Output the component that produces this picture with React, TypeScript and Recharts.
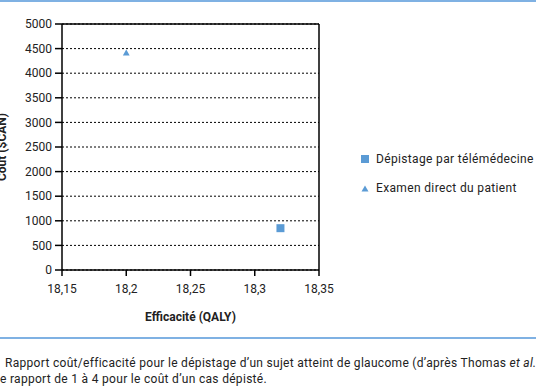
import React from 'react';
import { ScatterChart, Scatter, XAxis, YAxis, CartesianGrid, ReferenceLine, Legend, Symbols } from 'recharts';

const seriesNames = ['Dépistage par télémédecine', 'Examen direct du patient'];
const teleData = [{ x: 18.32, y: 850 }];
const directData = [{ x: 18.2, y: 4400 }];
const xTicks = [18.15, 18.2, 18.25, 18.3, 18.35];
const yTicks = [0, 500, 1000, 1500, 2000, 2500, 3000, 3500, 4000, 4500, 5000];
const captionLine1 = 'Rapport coût/efficacité pour le dépistage d’un sujet atteint de glaucome (d’après Thomas ';
const captionItalic = 'et al.';
const captionLine2 = 'e rapport de 1 à 4 pour le coût d’un cas dépisté.';

const BLUE = '#5b9bd5';
const FONT = 'Roboto, "DejaVu Sans", sans-serif';

const fmt = (v: number) => String(v).replace('.', ',');

const LegendContent = () => (
  <div style={{ fontFamily: FONT, fontSize: 12, color: '#222', letterSpacing: 0.35 }}>
    <div style={{ display: 'flex', alignItems: 'center', height: 16, whiteSpace: 'nowrap' }}>
      <svg width={16} height={10}><rect x={1} y={1} width={8} height={8} fill={BLUE} /></svg>
      <span>{seriesNames[0]}</span>
    </div>
    <div style={{ display: 'flex', alignItems: 'center', height: 16, marginTop: 13, whiteSpace: 'nowrap' }}>
      <svg width={16} height={10}><polygon points="5,2.5 8.5,8.5 1.5,8.5" fill={BLUE} /></svg>
      <span>{seriesNames[1]}</span>
    </div>
  </div>
);

const YLabel = (props: any) => {
  const vb = props.viewBox || { x: 0, y: 0, width: 0, height: 0 };
  const cx = 2;
  const cy = vb.y + vb.height / 2;
  return (
    <text x={cx} y={cy} transform={`rotate(-90 ${cx} ${cy})`} textAnchor="middle" dominantBaseline="central"
      style={{ fontFamily: FONT, fontSize: 12, fontWeight: 700, fill: '#222' }}>
      Coût ($CAN)
    </text>
  );
};

const squareShape = (p: any) => <Symbols cx={p.cx} cy={p.cy} type="square" size={64} fill={BLUE} />;
const triangleShape = (p: any) => <Symbols cx={p.cx} cy={p.cy} type="triangle" size={20} fill={BLUE} />;

export default function App() {
  return (
    <div style={{ position: 'absolute', left: 0, top: 0, width: 536, height: 386, background: '#fff', overflow: 'hidden', fontFamily: FONT }}>
      <div style={{ position: 'absolute', left: 0, top: 0, width: 536, height: 2, background: '#7fb1e3' }} />
      <div style={{ position: 'absolute', left: 0, top: 337, width: 536, height: 2, background: '#7fb1e3' }} />
      <ScatterChart width={536} height={386} margin={{ top: 24, right: 217, bottom: 86, left: 12 }}>
        <CartesianGrid vertical={false} stroke="#000" strokeDasharray="2 2" />
        <XAxis
          type="number"
          dataKey="x"
          domain={[18.15, 18.35]}
          ticks={xTicks}
          tickFormatter={fmt}
          allowDataOverflow
          height={30}
          stroke="#000"
          strokeWidth={1.5}
          tickSize={6}
          tickMargin={8}
          tick={{ fill: '#222', fontSize: 12, fontFamily: FONT }}
          label={{ value: 'Efficacité (QALY)', position: 'bottom', offset: 2, dy: 10, style: { fontFamily: FONT, fontSize: 12, fontWeight: 700, fill: '#222' } }}
        />
        <YAxis
          type="number"
          dataKey="y"
          domain={[0, 5000]}
          ticks={yTicks}
          width={50}
          stroke="#000"
          strokeWidth={1.5}
          tickSize={7}
          tickMargin={3}
          tick={{ fill: '#222', fontSize: 12, fontFamily: FONT }}
          label={<YLabel />}
        />
        <ReferenceLine y={5000} stroke="#000" strokeWidth={1.5} />
        <ReferenceLine x={18.35} stroke="#000" strokeWidth={1.5} />
        <Scatter name={seriesNames[0]} data={teleData} fill={BLUE} shape={squareShape} legendType="square" isAnimationActive={false} />
        <Scatter name={seriesNames[1]} data={directData} fill={BLUE} shape={triangleShape} legendType="triangle" isAnimationActive={false} />
        <Legend
          layout="vertical"
          align="center"
          verticalAlign="middle"
          content={<LegendContent />}
          wrapperStyle={{ left: 360, top: 151, width: 176, height: 50 }}
        />
      </ScatterChart>
      <div style={{ position: 'absolute', left: 5, top: 355, fontSize: 12, color: '#222', whiteSpace: 'nowrap', lineHeight: '16px', letterSpacing: 0.3 }}>
        {captionLine1}<i>{captionItalic}</i>
      </div>
      <div style={{ position: 'absolute', left: 0, top: 371, fontSize: 12, color: '#222', whiteSpace: 'nowrap', lineHeight: '16px', letterSpacing: 0.3 }}>
        {captionLine2}
      </div>
    </div>
  );
}
